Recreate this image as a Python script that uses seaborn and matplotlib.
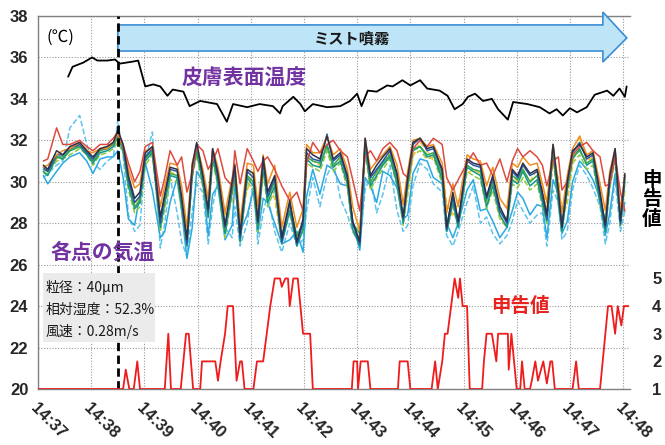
import numpy as np
import matplotlib
matplotlib.use("Agg")
import matplotlib.pyplot as plt
from matplotlib.patches import Polygon, Rectangle
import seaborn as sns

# ---------------- data ----------------
minute_labels = ["14:37", "14:38", "14:39", "14:40", "14:41", "14:42",
                 "14:43", "14:44", "14:45", "14:46", "14:47", "14:48"]

# skin surface temperature (seconds after 14:37:00, degC)
skin_t = [34, 39, 51, 61, 67, 78, 87, 92, 107, 113, 121, 130, 138, 146, 152, 164, 171, 183, 202, 213,
          220, 236, 250, 265, 273, 276, 288, 296, 301, 310, 326, 341, 352, 360, 365, 372, 382, 394, 400, 411,
          420, 431, 439, 453, 462, 470, 479, 485, 493, 502, 512, 519, 530, 536, 552, 566, 577, 585, 592, 600,
          608, 619, 628, 642, 649, 656, 662, 664]
skin_v = [35.07, 35.55, 35.75, 36.0, 35.85, 35.85, 35.9, 35.7, 35.8, 35.85, 34.6, 34.7, 34.6, 34.15, 34.45, 34.35, 33.65, 33.9, 33.75, 32.9,
          33.75, 33.6, 33.75, 33.65, 33.3, 33.65, 34.1, 33.75, 33.4, 33.75, 33.6, 33.65, 33.9, 34.25, 33.65, 34.4, 34.35, 34.65, 34.6, 34.9,
          34.65, 34.9, 34.5, 34.4, 34.15, 33.5, 33.75, 34.1, 34.25, 33.9, 34.0, 33.5, 33.0, 33.85, 33.75, 33.6, 33.3, 33.5, 33.2, 33.55,
          33.35, 33.6, 34.2, 34.4, 34.15, 34.5, 34.1, 34.6]

# air temperature at each measuring point (shared sample times, seconds)
air_t = [6, 11, 21, 28, 36, 47, 55, 62, 70, 78,
         85, 90, 96, 102, 109, 115, 121, 129, 138, 143,
         149, 157, 162, 168, 174, 179, 186, 192, 197, 203,
         211, 219, 222, 228, 236, 243, 248, 254, 259, 267,
         275, 284, 292, 299, 303, 310, 318, 326, 333, 341,
         349, 355, 363, 369, 375, 382, 389, 397, 405, 412,
         417, 423, 431, 439, 446, 456, 461, 468, 474, 484,
         491, 499, 506, 513, 521, 529, 535, 541, 547, 555,
         563, 569, 574, 581, 587, 591, 597, 603, 611, 619,
         626, 634, 640, 645, 651, 657, 662]

air_red = [31.0, 31.1, 32.6, 31.8, 31.8, 32.0, 31.7, 31.5, 31.8, 31.8,
           32.1, 32.4, 31.8, 30.9, 30.0, 30.5, 31.7, 31.9, 29.3, 30.2,
           31.5, 30.8, 31.2, 29.5, 30.4, 31.8, 31.5, 30.6, 31.0, 31.6,
           30.2, 29.8, 31.5, 29.9, 31.6, 31.0, 30.5, 31.0, 31.2, 30.6,
           29.8, 29.1, 29.5, 28.6, 30.9, 31.9, 31.4, 31.8, 32.0, 31.5,
           31.2, 30.1, 28.6, 31.2, 31.5, 31.0, 31.6, 31.9, 31.5, 30.4,
           30.2, 31.6, 32.0, 31.7, 32.1, 31.8, 30.2, 29.6, 30.1, 30.9,
           31.4, 30.8, 30.9, 30.3, 31.1, 30.0, 31.0, 31.6, 31.2, 31.5,
           31.2, 30.8, 29.8, 31.0, 31.2, 29.6, 30.0, 31.3, 31.7, 31.9,
           31.5, 31.2, 29.8, 29.9, 31.2, 29.5, 28.6]
air_orange = [30.7, 30.8, 31.3, 31.5, 31.6, 31.9, 31.5, 31.4, 31.6, 31.6,
              31.9, 32.3, 31.7, 30.6, 29.7, 29.9, 31.5, 31.6, 28.8, 29.8,
              30.9, 30.8, 29.8, 27.8, 30.9, 31.8, 30.6, 29.2, 31.6, 30.7,
              28.5, 30.2, 30.9, 28.0, 30.9, 30.8, 28.8, 31.3, 29.9, 30.8,
              27.8, 29.5, 27.8, 28.7, 31.8, 31.4, 31.4, 32.2, 31.3, 31.6,
              30.6, 28.8, 27.6, 32.1, 30.6, 31.0, 31.3, 31.7, 30.8, 28.9,
              30.5, 32.0, 32.1, 31.7, 31.8, 30.9, 28.5, 29.9, 28.8, 31.3,
              31.1, 31.0, 29.8, 30.7, 29.2, 28.7, 30.9, 30.7, 31.2, 30.8,
              30.9, 29.9, 29.0, 31.8, 29.9, 28.5, 30.3, 31.6, 32.2, 31.3,
              31.5, 29.9, 28.6, 30.5, 31.6, 28.6, 30.3]
air_gold = [30.5, 30.6, 31.1, 31.3, 31.5, 31.8, 31.6, 31.0, 31.5, 31.8,
            31.8, 32.2, 31.6, 30.0, 28.9, 29.3, 31.2, 31.5, 27.9, 29.0,
            30.5, 30.3, 28.9, 27.0, 30.4, 31.6, 30.0, 28.4, 31.2, 30.0,
            28.4, 29.0, 30.8, 28.2, 29.6, 30.5, 28.6, 30.2, 29.8, 29.2,
            27.0, 28.8, 27.3, 27.9, 31.3, 31.0, 30.8, 31.8, 30.7, 31.1,
            30.0, 27.9, 27.3, 31.7, 29.8, 30.4, 30.9, 31.4, 30.0, 28.1,
            29.3, 31.2, 31.9, 31.5, 31.0, 30.8, 28.9, 28.4, 29.0, 30.4,
            30.6, 30.4, 29.0, 29.9, 28.3, 27.9, 30.3, 30.0, 30.6, 30.0,
            30.6, 29.8, 28.6, 30.8, 30.2, 28.3, 28.9, 30.8, 32.2, 31.0,
            31.2, 29.2, 27.7, 30.0, 31.4, 27.9, 29.8]
air_green = [30.6, 30.5, 31.2, 31.2, 31.5, 31.7, 31.4, 31.0, 31.5, 31.6,
             31.8, 32.1, 31.7, 30.0, 28.8, 29.1, 31.1, 31.5, 28.0, 29.1,
             30.4, 30.3, 29.0, 27.3, 30.5, 31.6, 30.1, 28.5, 31.3, 30.1,
             27.7, 29.7, 30.4, 27.5, 30.3, 30.0, 27.9, 30.8, 29.2, 30.0,
             27.4, 28.9, 27.4, 28.0, 31.2, 31.0, 30.9, 31.7, 30.8, 31.2,
             30.1, 28.0, 27.5, 31.8, 30.0, 30.5, 30.9, 31.3, 30.1, 28.2,
             30.0, 31.6, 31.7, 31.3, 31.4, 30.3, 27.9, 29.2, 28.1, 30.8,
             30.6, 30.5, 29.1, 30.0, 28.6, 28.1, 30.3, 30.1, 30.6, 30.0,
             30.3, 29.2, 28.4, 31.4, 29.3, 27.9, 29.8, 31.2, 31.5, 30.9,
             31.1, 29.3, 28.0, 30.1, 31.3, 28.3, 30.2]
air_lightgreen = [30.4, 30.4, 31.0, 31.1, 31.3, 31.6, 31.3, 30.8, 31.3, 31.4,
                  31.6, 31.9, 31.4, 29.6, 28.5, 28.8, 30.8, 31.3, 27.6, 28.7,
                  30.1, 30.0, 28.6, 26.9, 30.2, 31.3, 29.7, 28.2, 31.0, 29.8,
                  27.3, 29.4, 30.1, 27.1, 30.0, 29.6, 27.6, 30.5, 28.8, 29.6,
                  27.1, 28.5, 27.0, 27.6, 30.9, 30.7, 30.5, 31.5, 30.5, 30.9,
                  29.7, 27.6, 27.1, 31.5, 29.6, 30.2, 30.6, 31.1, 29.8, 27.9,
                  29.6, 31.3, 31.5, 31.1, 31.2, 29.9, 27.6, 28.8, 27.8, 30.5,
                  30.3, 30.1, 28.7, 29.6, 28.2, 27.8, 29.9, 29.7, 30.2, 29.6,
                  29.9, 28.8, 28.0, 31.1, 28.9, 27.6, 29.4, 30.9, 31.3, 30.6,
                  30.8, 28.9, 27.6, 29.7, 31.0, 27.9, 29.6]
air_dark = [30.8, 30.6, 31.5, 31.3, 31.7, 31.9, 31.5, 31.2, 31.6, 31.7,
            31.9, 32.5, 31.8, 30.3, 29.2, 29.5, 31.4, 31.7, 28.3, 29.4,
            30.7, 30.6, 29.3, 27.2, 30.8, 31.9, 30.3, 28.7, 31.6, 30.4,
            27.9, 30.0, 30.8, 27.5, 30.6, 30.4, 28.1, 31.2, 29.5, 30.3,
            27.3, 29.1, 27.1, 28.2, 31.6, 31.3, 31.1, 32.2, 31.1, 31.4,
            30.3, 28.1, 27.1, 32.1, 30.3, 30.8, 31.2, 31.6, 30.4, 28.3,
            30.2, 31.9, 32.1, 31.6, 31.7, 30.6, 27.8, 29.5, 28.1, 31.1,
            30.9, 30.8, 29.3, 30.3, 28.8, 28.1, 30.6, 30.3, 30.9, 30.4,
            30.6, 29.5, 28.4, 31.8, 29.6, 27.8, 30.0, 31.5, 31.8, 31.2,
            31.4, 29.5, 27.9, 30.3, 31.6, 28.1, 30.4]
air_blue = [30.7, 30.5, 31.3, 31.3, 31.6, 31.8, 31.4, 31.1, 31.6, 31.6,
            31.9, 32.3, 31.7, 30.1, 29.0, 29.3, 31.2, 31.6, 28.0, 29.3,
            30.6, 30.5, 29.1, 27.0, 30.6, 31.8, 30.2, 28.5, 31.5, 30.2,
            27.8, 29.8, 30.6, 27.3, 30.5, 30.2, 28.0, 31.0, 29.3, 30.2,
            27.1, 29.0, 27.0, 28.0, 31.4, 31.1, 31.0, 32.3, 31.0, 31.3,
            30.2, 28.0, 27.0, 32.0, 30.2, 30.6, 31.0, 31.5, 30.3, 28.2,
            30.1, 31.8, 32.1, 31.5, 31.6, 30.5, 27.7, 29.3, 28.0, 31.0,
            30.8, 30.7, 29.2, 30.2, 28.6, 28.0, 30.5, 30.2, 30.8, 30.3,
            30.5, 29.3, 28.2, 31.8, 29.4, 27.8, 29.9, 31.4, 31.9, 31.1,
            31.3, 29.3, 27.8, 30.2, 31.5, 28.0, 30.3]
air_teal = [30.5, 30.3, 31.2, 31.1, 31.5, 31.7, 31.3, 30.9, 31.4, 31.5,
            31.7, 32.2, 31.5, 29.8, 28.7, 29.0, 31.0, 31.4, 27.8, 29.0,
            30.3, 30.2, 28.8, 26.9, 30.3, 31.5, 29.9, 28.3, 31.2, 29.9,
            27.5, 29.5, 30.3, 27.1, 30.2, 29.8, 27.7, 30.7, 29.0, 29.8,
            27.0, 28.6, 26.9, 27.7, 31.1, 30.8, 30.7, 31.8, 30.7, 31.0,
            29.9, 27.7, 26.9, 31.7, 29.8, 30.3, 30.8, 31.2, 29.9, 28.0,
            29.8, 31.5, 31.7, 31.2, 31.3, 30.1, 27.6, 29.0, 27.8, 30.7,
            30.5, 30.3, 28.8, 29.8, 28.4, 27.8, 30.1, 29.9, 30.5, 29.8,
            30.1, 29.0, 28.1, 31.4, 29.0, 27.6, 29.6, 31.1, 31.6, 30.8,
            31.0, 29.0, 27.6, 29.9, 31.2, 27.9, 30.0]
air_cyan = [30.3, 29.9, 30.5, 30.9, 31.2, 31.4, 31.0, 30.4, 31.1, 31.2,
            31.2, 31.5, 30.2, 28.2, 27.9, 29.4, 30.9, 29.6, 27.3, 27.6,
            29.0, 30.2, 28.6, 26.3, 27.8, 30.5, 30.0, 27.4, 29.4, 29.8,
            27.2, 27.9, 29.9, 27.6, 28.4, 29.6, 27.5, 29.2, 29.0, 28.0,
            27.0, 27.2, 27.6, 26.6, 29.3, 30.6, 29.4, 30.8, 30.6, 29.9,
            29.8, 28.1, 26.7, 30.2, 29.8, 29.0, 30.5, 30.3, 29.7, 28.2,
            28.4, 30.4, 31.1, 31.0, 30.2, 29.9, 28.0, 27.3, 28.0, 29.6,
            30.1, 28.6, 28.7, 28.1, 27.3, 27.8, 28.6, 29.5, 29.2, 28.4,
            28.9, 28.8, 27.3, 30.1, 29.4, 27.5, 28.1, 30.0, 31.0, 30.6,
            30.1, 29.2, 27.4, 28.5, 30.4, 28.1, 29.0]
air_cyan_dash = [30.2, 30.4, 30.8, 31.0, 32.6, 33.2, 31.8, 30.9, 30.6, 31.0,
                 31.2, 33.0, 31.3, 28.4, 27.6, 27.9, 31.0, 32.4, 26.8, 28.0,
                 30.2, 28.5, 27.1, 26.4, 28.6, 29.9, 29.5, 27.0, 28.8, 30.1,
                 27.8, 27.3, 28.8, 26.9, 28.0, 30.0, 27.0, 28.5, 29.4, 27.6,
                 26.6, 28.0, 26.9, 27.2, 28.6, 30.2, 28.8, 30.3, 31.0, 29.2,
                 28.4, 27.6, 27.0, 29.6, 30.3, 28.5, 29.4, 30.8, 28.6, 27.6,
                 27.9, 29.8, 30.9, 30.6, 29.9, 29.5, 27.4, 26.9, 27.6, 29.0,
                 29.8, 28.0, 28.3, 27.5, 27.0, 27.4, 28.1, 29.1, 28.6, 28.0,
                 28.4, 28.5, 26.9, 29.6, 29.0, 27.2, 27.6, 29.6, 30.8, 30.3,
                 29.7, 28.8, 27.0, 28.0, 30.1, 27.6, 28.6]

# thermal sensation vote (申告値) on right axis
rep_t = [0, 96, 99, 103, 108, 112, 115, 143, 147, 150, 161, 164, 167, 170, 175, 183, 185, 200, 203, 206,
         211, 214, 220, 224, 228, 230, 233, 243, 247, 254, 258, 262, 267, 273, 275, 279, 282, 284, 288, 293,
         299, 307, 310, 354, 356, 360, 361, 364, 372, 375, 406, 408, 417, 420, 444, 448, 451, 456, 459, 462,
         466, 470, 474, 476, 479, 484, 487, 501, 503, 506, 512, 517, 519, 530, 531, 534, 540, 544, 546, 549,
         555, 557, 561, 564, 570, 574, 578, 580, 583, 603, 607, 610, 634, 637, 640, 643, 647, 651, 654, 658,
         661, 666]
rep_v = [1, 1, 1.7, 1, 1, 2, 1, 1, 3, 1, 1, 2, 3, 3, 1, 1, 2, 2, 1.3, 2,
         3, 4, 4, 1.3, 2, 2, 1, 1, 2, 2, 3, 4, 5, 5, 4.7, 5, 5, 4, 5, 5,
         3, 3, 1, 1, 2, 2, 1, 2, 2, 1, 1, 2, 2, 1, 1, 2, 1, 2, 3, 3,
         4, 5, 4.3, 5, 4, 4, 1, 1, 2, 3, 3, 2, 3, 3, 1.7, 3, 1, 1, 2, 1,
         1, 1.3, 2, 1.3, 2, 1.2, 2, 2, 1, 1, 2, 1, 1, 2, 3, 4, 4, 3, 4, 3.3,
         4, 4]

mist_start_s = 90  # 14:38:30

# ---------------- style ----------------
sns.set_theme(style="white")
plt.rcParams["font.family"] = ["Liberation Sans", "Noto Sans CJK JP", "DejaVu Sans"]
JP = ["Noto Sans CJK JP", "DejaVu Sans"]

fig = plt.figure(figsize=(6.65, 4.45), dpi=100)
ax = fig.add_axes([38 / 665, 56 / 445, 592 / 665, 373 / 445])

air_series = [
    (air_cyan_dash, "#5EC4EC", "--"),
    (air_cyan, "#2BA9E1", "-"),
    (air_lightgreen, "#8DC841", "--"),
    (air_gold, "#F6C22C", "--"),
    (air_teal, "#13968A", "-"),
    (air_green, "#33A852", "-"),
    (air_blue, "#2458A6", "-"),
    (air_orange, "#EE8F1E", "-"),
    (air_red, "#DC4B3F", "-"),
    (air_dark, "#30304A", "-"),
]
tmin = np.array(air_t) / 60.0
for vals, col, ls in air_series:
    sns.lineplot(x=tmin, y=vals, ax=ax, color=col, linewidth=1.1, linestyle=ls, zorder=3)

sns.lineplot(x=np.array(skin_t) / 60.0, y=skin_v, ax=ax, color="black", linewidth=1.3, zorder=4)

ax.set_xlim(0, 11.13)
ax.set_ylim(20, 38)
ax.set_xticks(range(12))
ax.set_xticklabels(minute_labels, rotation=-45, ha="left", va="top",
                   rotation_mode="anchor", fontsize=12, fontweight="bold")
ax.set_yticks(range(20, 39, 2))
ax.set_yticklabels([str(v) for v in range(20, 39, 2)], fontsize=12, fontweight="bold")
ax.tick_params(axis="both", length=0)
ax.tick_params(axis="y", pad=7)
ax.tick_params(axis="x", pad=8)
ax.grid(True, color="#9a9a9a", linestyle=(0, (1, 1.5)), linewidth=0.8)
ax.set_xlabel("")
ax.set_ylabel("")
for s in ["left", "top", "bottom"]:
    ax.spines[s].set_color("#808080")
    ax.spines[s].set_linewidth(1.0)
ax.spines["right"].set_visible(False)

# mist start dashed line
ax.axvline(mist_start_s / 60.0, color="black", linewidth=2.0, linestyle=(0, (3, 1.6)), zorder=6)

# mist arrow
arrow = Polygon([(1.5, 36.31), (10.62, 36.31), (10.62, 35.78), (11.07, 36.94),
                 (10.62, 38.19), (10.62, 37.57), (1.5, 37.57)], closed=True,
                facecolor="#BEE4F8", edgecolor="#3C8ED3", linewidth=1.2, clip_on=False, zorder=5)
ax.add_patch(arrow)
ax.text(5.9, 36.94, "ミスト噴霧", family=JP, fontsize=11, fontweight="bold",
        ha="center", va="center", color="#1a1a1a", zorder=7)

# annotations
ax.text(0.43, 36.95, "(℃)", family=JP, fontsize=12, ha="center", va="center", color="black")
ax.text(3.87, 35.0, "皮膚表面温度", family=JP, fontsize=15, fontweight="bold",
        ha="center", va="center", color="#7232A2", zorder=7)
ax.text(1.22, 26.6, "各点の気温", family=JP, fontsize=15, fontweight="bold",
        ha="center", va="center", color="#7232A2", zorder=7)
ax.text(9.06, 24.0, "申告値", family=JP, fontsize=14, fontweight="bold",
        ha="center", va="center", color="#E8231F", zorder=7)

ax.add_patch(Rectangle((0.0084, 0.126), 0.19, 0.185, transform=ax.transAxes,
                       facecolor="#EBEBEB", edgecolor="none", zorder=6))
for yy, txt in [(0.271, "粒径：40μm"), (0.212, "相対湿度：52.3%"), (0.155, "風速：0.28m/s")]:
    ax.text(0.013, yy, txt, transform=ax.transAxes, family=JP, fontsize=10,
            ha="left", va="center", color="#1a1a1a", zorder=7)

# right axis: vote
ax2 = ax.twinx()
sns.lineplot(x=np.array(rep_t) / 60.0, y=rep_v, ax=ax2, color="#EE1C1C", linewidth=1.3, zorder=5)
ax2.set_ylim(1, 14.5)
ax2.set_xlim(0, 11.13)
ax2.set_yticks([1, 2, 3, 4, 5])
ax2.set_yticklabels(["1", "2", "3", "4", "5"], fontsize=12, fontweight="bold")
ax2.tick_params(axis="y", length=0, pad=16)
ax2.set_ylabel("")
for s in ax2.spines.values():
    s.set_visible(False)
ax2.grid(False)
ax.text(1.037, 0.507, "申\n告\n値", transform=ax.transAxes, family=JP, fontsize=14,
        fontweight="bold", ha="center", va="center", linespacing=1.05, color="black")

fig.savefig("out.png", dpi=100)
